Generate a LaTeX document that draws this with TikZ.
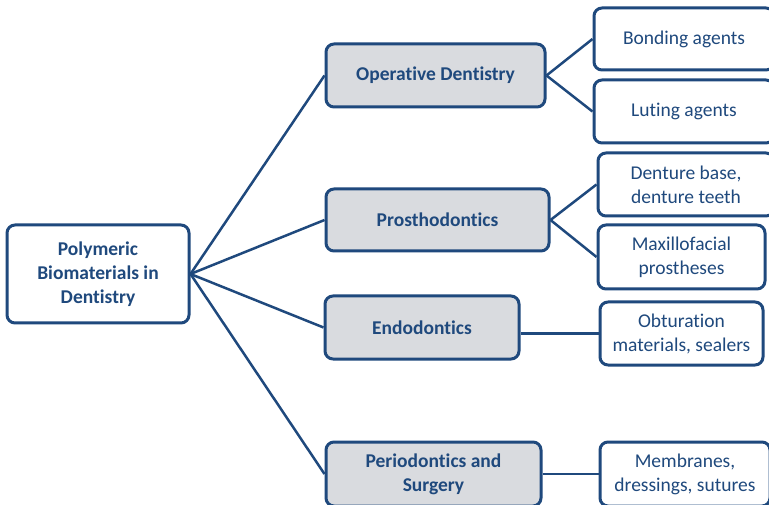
\documentclass[tikz,border=0pt]{standalone}
\usepackage{fontspec}
\setmainfont{Carlito}[Ligatures=NoCommon]
\usepackage{tikz}
\usetikzlibrary{positioning}
\usepackage{xcolor}
\definecolor{darkblue}{RGB}{31,73,125}
\definecolor{lightgrey}{RGB}{217,219,223}

\begin{document}
\begin{tikzpicture}[
                x=1pt, y=-1pt,
                line join=round,
                rootnode/.style={shape=rectangle, rounded corners=8pt, draw=darkblue, fill=white, line width=3pt, text=darkblue, align=center, inner sep=0pt, font=\fontsize{19.5}{24}\selectfont\bfseries},
                fieldnode/.style={rootnode, fill=lightgrey},
                usenode/.style={rootnode, font=\fontsize{19.5}{24}\selectfont},
                branch/.style={draw=darkblue, line width=2.5pt}
                ]
                %% Canvas
                \fill[white] (0,0) rectangle (769,505);
                \useasboundingbox (0,0) rectangle (769,505);

                %% Nodes
                \node[rootnode, minimum width=182pt, minimum height=98pt] (polymers) at (98,274) {Polymeric\\Biomaterials in\\Dentistry};

                \node[fieldnode, minimum width=219pt, minimum height=63pt] (operative) at (435.5,75.5) {Operative Dentistry};
                \node[fieldnode, minimum width=223pt, minimum height=62pt] (prostho) at (437.5,220) {Prosthodontics};
                \node[fieldnode, minimum width=194pt, minimum height=63pt] (endo) at (422,327.5) {Endodontics};
                \node[fieldnode, minimum width=215pt, minimum height=64pt] (perio) at (433.5,474) {Periodontics and\\Surgery};

                \node[usenode, minimum width=180pt, minimum height=62pt] (bonding) at (684,39) {Bonding agents};
                \node[usenode, minimum width=180pt, minimum height=63pt] (luting) at (684,111.5) {Luting agents};
                \node[usenode, minimum width=176pt, minimum height=63pt] (denture) at (686,184.5) {Denture base,\\denture teeth};
                \node[usenode, minimum width=167pt, minimum height=64pt] (maxfacial) at (681.5,257) {Maxillofacial\\prostheses};
                \node[usenode, minimum width=163pt, minimum height=63pt] (obturation) at (681.5,333.5) {Obturation\\materials, sealers};
                \node[usenode, minimum width=170pt, minimum height=64pt] (membranes) at (685,474) {Membranes,\\dressings, sutures};

                %% Branches
                \foreach \field in {operative, prostho, endo, perio}
                        \draw[branch] (polymers.east) -- (\field.west);
                \draw[branch] (operative.east) -- (bonding.west);
                \draw[branch] (operative.east) -- (luting.west);
                \draw[branch] (prostho.east) -- (denture.west);
                \draw[branch] (prostho.east) -- (maxfacial.west);
                \draw[branch] (obturation.west) -- (obturation.west -| endo.east);
                \draw[branch] (perio.east) -- (membranes.west);
                \end{tikzpicture}
\end{document}
